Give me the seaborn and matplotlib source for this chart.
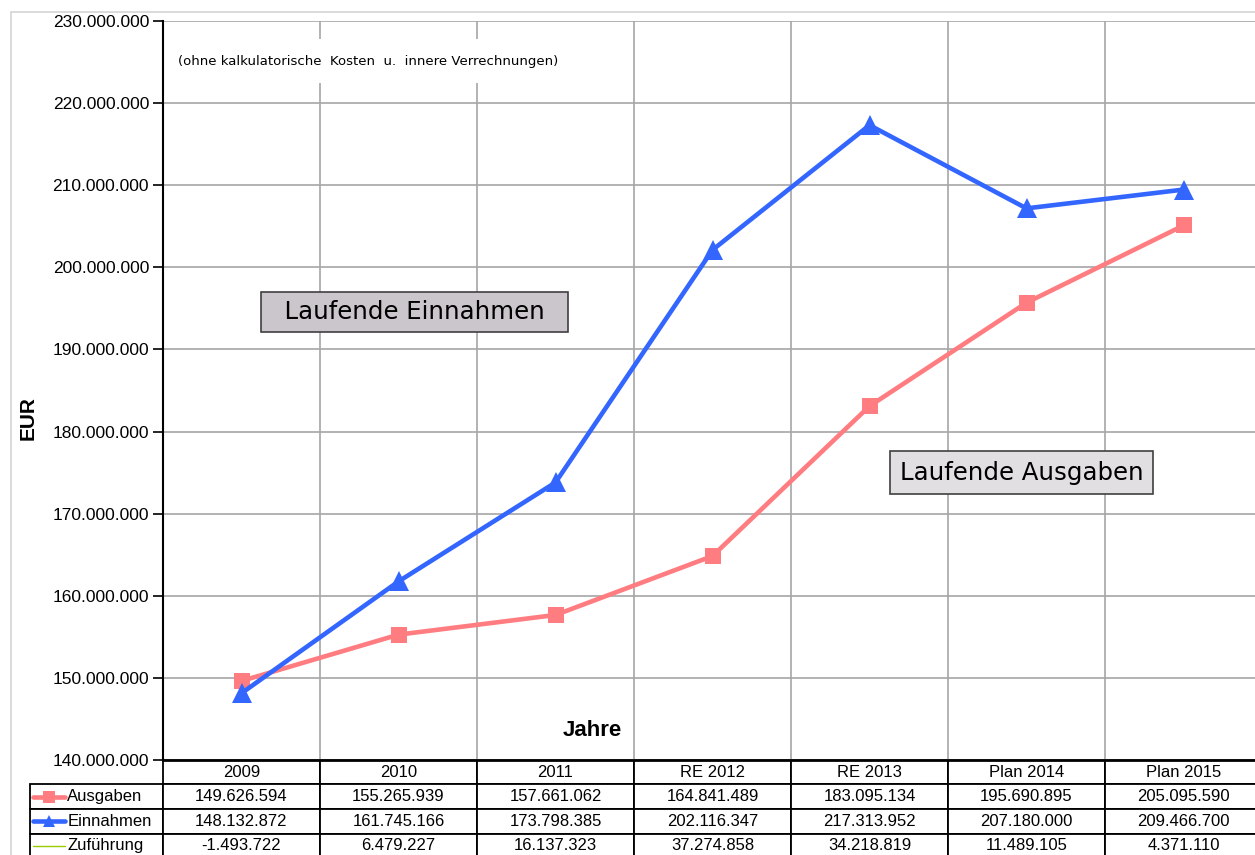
import pandas as pd
import seaborn as sns
import matplotlib.pyplot as plt
from matplotlib.ticker import FuncFormatter, MultipleLocator
from matplotlib.lines import Line2D
from matplotlib.patches import Rectangle

jahre = ['2009', '2010', '2011', 'RE 2012', 'RE 2013', 'Plan 2014', 'Plan 2015']
ausgaben = [149626594, 155265939, 157661062, 164841489, 183095134, 195690895, 205095590]
einnahmen = [148132872, 161745166, 173798385, 202116347, 217313952, 207180000, 209466700]
zufuehrung = [-1493722, 6479227, 16137323, 37274858, 34218819, 11489105, 4371110]

reihen = ['Ausgaben', 'Einnahmen', 'Zuführung']
werte = [ausgaben, einnahmen, zufuehrung]
farben = {'Ausgaben': '#ff7c80', 'Einnahmen': '#3366ff', 'Zuführung': '#99cc00'}


def de(v, pos=None):
    return f"{int(v):,}".replace(",", ".")


sns.set_theme(style="white")
plt.rcParams['font.family'] = ['Liberation Sans', 'DejaVu Sans']
plt.rcParams['text.color'] = 'black'
plt.rcParams['axes.labelcolor'] = 'black'
plt.rcParams['ytick.color'] = 'black'
plt.rcParams['xtick.color'] = 'black'

fig = plt.figure(figsize=(12.55, 8.55), dpi=100)
ax = fig.add_axes([163/1255, 1-760/855, 1099/1255, 739/855])

# outer chart frame
fig.patches.append(Rectangle((11/1255, -0.05), 1.2, 1-12/855+0.05, transform=fig.transFigure,
                             fill=False, edgecolor='#d4d4d4', lw=1.2))

df = pd.DataFrame({'Jahr': jahre * 3,
                   'Reihe': [r for r in reihen for _ in jahre],
                   'EUR': ausgaben + einnahmen + zufuehrung})

sns.lineplot(data=df[df.Reihe == 'Zuführung'], x='Jahr', y='EUR', color=farben['Zuführung'],
             lw=1, sort=False, ax=ax)
sns.lineplot(data=df[df.Reihe == 'Ausgaben'], x='Jahr', y='EUR', color=farben['Ausgaben'],
             lw=3.3, marker='s', markersize=11, markeredgewidth=0, sort=False, ax=ax)
sns.lineplot(data=df[df.Reihe == 'Einnahmen'], x='Jahr', y='EUR', color=farben['Einnahmen'],
             lw=3.3, marker='^', markersize=14, markeredgewidth=0, sort=False, ax=ax)

ax.set_xlim(-0.5, 6.5)
ax.set_ylim(140e6, 230e6)
ax.yaxis.set_major_locator(MultipleLocator(10e6))
ax.yaxis.set_major_formatter(FuncFormatter(de))
ax.set_xticks([i + 0.5 for i in range(6)])
ax.set_xticklabels([])
ax.tick_params(axis='x', length=0)
ax.tick_params(axis='y', direction='out', length=7, width=1.2, color='black', labelsize=12.5, pad=3, left=True)
ax.grid(True, color='#a6a6a6', lw=1.2)
ax.set_axisbelow(True)
for s in ['top', 'right']:
    ax.spines[s].set_visible(False)
ax.spines['left'].set_color('black')
ax.spines['left'].set_linewidth(1.5)
ax.spines['bottom'].set_color('black')
ax.spines['bottom'].set_linewidth(2)

ax.set_xlabel('')
ax.set_ylabel('EUR', fontsize=15, fontweight='bold')
ax.yaxis.set_label_coords(-125/1099, (760-418)/739)
ax.text((592-163)/1099, (760-730)/739, 'Jahre', transform=ax.transAxes, ha='center', va='center',
        fontsize=16, fontweight='bold')

ax.text((178-163)/1099, 1-(61-21)/739, '(ohne kalkulatorische  Kosten  u.  innere Verrechnungen)',
        transform=ax.transAxes, ha='left', va='center', fontsize=9.5, family='DejaVu Sans', zorder=2.2,
        bbox=dict(facecolor='white', edgecolor='none', pad=11))

ax.text(1.10, 194.56e6, '  Laufende Einnahmen  ', ha='center', va='center', fontsize=17.6,
        family='DejaVu Sans',
        bbox=dict(boxstyle='square,pad=0.33', facecolor='#cbc6cb', edgecolor='#404040', lw=1.2))
ax.text(4.97, 175.0e6, 'Laufende Ausgaben', ha='center', va='center', fontsize=17.6, family='DejaVu Sans',
        bbox=dict(boxstyle='square,pad=0.4', facecolor='#e2dfe2', edgecolor='#404040', lw=1.2))

# data table below the plot
zellen = [[''] + jahre] + [[r] + [de(v) for v in w] for r, w in zip(reihen, werte)]
h = 98/739
lw_col = 133/1099
tab = ax.table(cellText=zellen, colWidths=[133] + [157]*7, cellLoc='center',
               bbox=[-lw_col, -h, 1 + lw_col, h])
tab.auto_set_font_size(False)
tab.set_fontsize(12)
for (r, c), cell in tab.get_celld().items():
    cell.set_edgecolor('black')
    cell.set_linewidth(1.3)
    if r == 0 and c == 0:
        cell.visible_edges = ''
        cell.set_facecolor('none')
    if c == 0 and r > 0:
        cell.PAD = 0.28
        cell.get_text().set_ha('left')
        cell._loc = 'left'

# legend keys inside the row-label cells
for i, r in enumerate(reihen):
    y = -h * (i + 1.5) / 4
    mk = {'Ausgaben': 's', 'Einnahmen': '^', 'Zuführung': None}[r]
    lwk = 1 if r == 'Zuführung' else 3.3
    ax.add_line(Line2D([-130/1099, -98/1099], [y, y], transform=ax.transAxes, clip_on=False,
                       color=farben[r], lw=lwk))
    if mk:
        ax.add_line(Line2D([-114/1099], [y], transform=ax.transAxes, clip_on=False,
                           color=farben[r], marker=mk, markersize=8, markeredgewidth=0, lw=0))

fig.savefig('out.png', dpi=100)
